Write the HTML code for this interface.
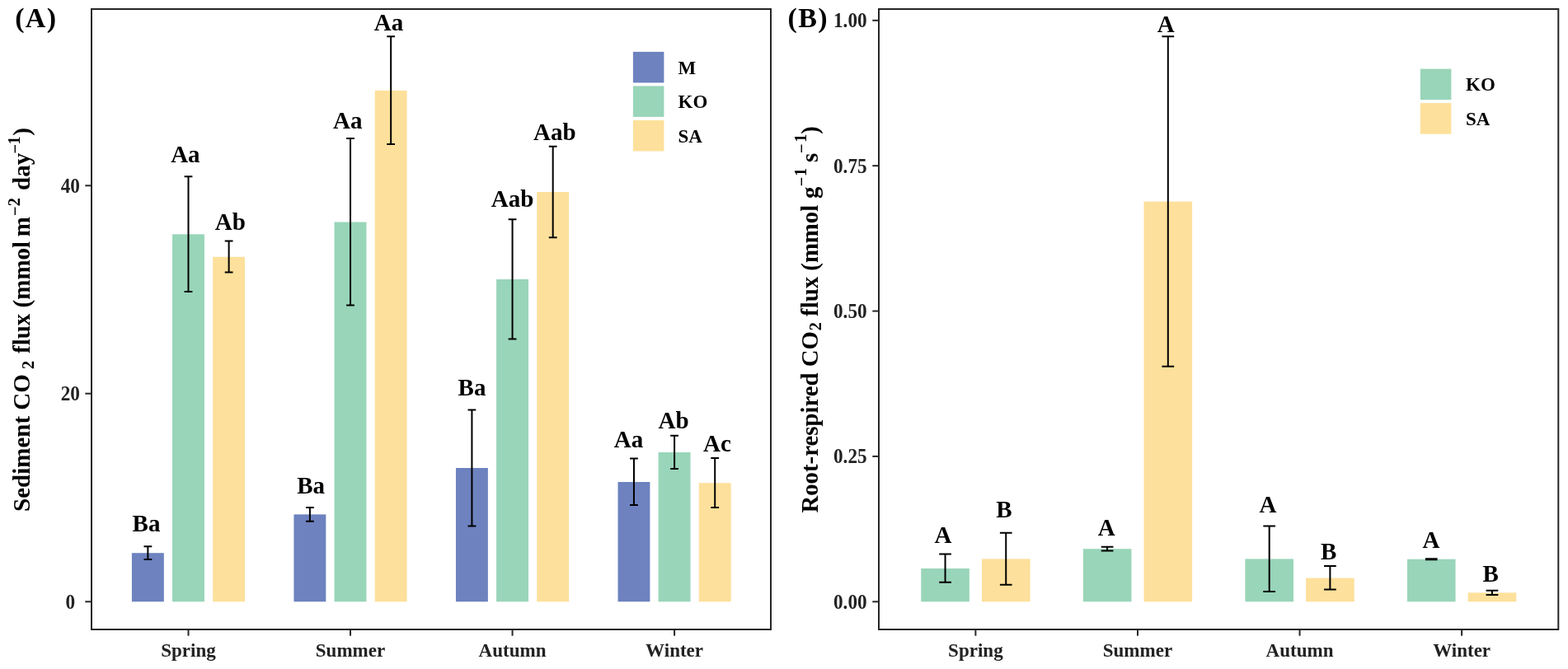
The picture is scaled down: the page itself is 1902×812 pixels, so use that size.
<!DOCTYPE html>
<html><head><meta charset="utf-8"><title>CO2 flux</title><style>
html,body{margin:0;padding:0;background:#fff;overflow:hidden;}
svg{display:block;}
text{font-family:'Liberation Serif','Times New Roman',serif;font-weight:bold;}
.lab{font-size:29px;fill:#000;text-anchor:middle;}
.tick{fill:#222;}
.leg{font-size:23px;fill:#000;}
.tag{font-size:34px;fill:#000;letter-spacing:1.3px;}
</style></head>
<body><svg width="1902" height="812" viewBox="0 0 1902 812">
<rect x="0" y="0" width="1902" height="812" fill="#fff"/>
<rect x="159.92" y="671.20" width="38.90" height="59.10" fill="#6d82bf"/>
<rect x="209.05" y="284.30" width="38.90" height="446.00" fill="#99d5b9"/>
<rect x="258.18" y="311.80" width="38.90" height="418.50" fill="#fde09b"/>
<rect x="356.45" y="624.40" width="38.90" height="105.90" fill="#6d82bf"/>
<rect x="405.58" y="269.50" width="38.90" height="460.80" fill="#99d5b9"/>
<rect x="454.71" y="109.90" width="38.90" height="620.40" fill="#fde09b"/>
<rect x="552.98" y="568.00" width="38.90" height="162.30" fill="#6d82bf"/>
<rect x="602.11" y="339.00" width="38.90" height="391.30" fill="#99d5b9"/>
<rect x="651.24" y="233.00" width="38.90" height="497.30" fill="#fde09b"/>
<rect x="749.51" y="585.00" width="38.90" height="145.30" fill="#6d82bf"/>
<rect x="798.64" y="549.00" width="38.90" height="181.30" fill="#99d5b9"/>
<rect x="847.77" y="586.20" width="38.90" height="144.10" fill="#fde09b"/>
<path d="M179.37 663.20V679.00M174.47 663.20H184.27M174.47 679.00H184.27" stroke="#000" stroke-width="2.0" fill="none"/>
<path d="M228.50 214.20V354.10M223.60 214.20H233.40M223.60 354.10H233.40" stroke="#000" stroke-width="2.0" fill="none"/>
<path d="M277.63 292.60V330.60M272.73 292.60H282.53M272.73 330.60H282.53" stroke="#000" stroke-width="2.0" fill="none"/>
<path d="M375.90 615.90V632.70M371.00 615.90H380.80M371.00 632.70H380.80" stroke="#000" stroke-width="2.0" fill="none"/>
<path d="M425.03 168.10V370.50M420.13 168.10H429.93M420.13 370.50H429.93" stroke="#000" stroke-width="2.0" fill="none"/>
<path d="M474.16 44.20V175.10M469.26 44.20H479.06M469.26 175.10H479.06" stroke="#000" stroke-width="2.0" fill="none"/>
<path d="M572.43 497.50V638.40M567.53 497.50H577.33M567.53 638.40H577.33" stroke="#000" stroke-width="2.0" fill="none"/>
<path d="M621.56 266.30V411.40M616.66 266.30H626.46M616.66 411.40H626.46" stroke="#000" stroke-width="2.0" fill="none"/>
<path d="M670.69 177.70V288.20M665.79 177.70H675.59M665.79 288.20H675.59" stroke="#000" stroke-width="2.0" fill="none"/>
<path d="M768.96 556.60V612.90M764.06 556.60H773.86M764.06 612.90H773.86" stroke="#000" stroke-width="2.0" fill="none"/>
<path d="M818.09 528.70V569.10M813.19 528.70H822.99M813.19 569.10H822.99" stroke="#000" stroke-width="2.0" fill="none"/>
<path d="M867.22 556.00V616.00M862.32 556.00H872.12M862.32 616.00H872.12" stroke="#000" stroke-width="2.0" fill="none"/>
<text x="177.53" y="644.50" class="lab">Ba</text>
<text x="224.88" y="196.60" class="lab">Aa</text>
<text x="279.35" y="279.00" class="lab">Ab</text>
<text x="377.08" y="599.20" class="lab">Ba</text>
<text x="421.73" y="156.00" class="lab">Aa</text>
<text x="471.58" y="37.30" class="lab">Aa</text>
<text x="572.48" y="479.60" class="lab">Ba</text>
<text x="621.60" y="251.40" class="lab">Aab</text>
<text x="672.90" y="169.70" class="lab">Aab</text>
<text x="762.58" y="543.40" class="lab">Aa</text>
<text x="817.15" y="519.70" class="lab">Ab</text>
<text x="869.97" y="547.60" class="lab">Ac</text>
<rect x="1117.25" y="690.00" width="58.60" height="40.30" fill="#99d5b9"/>
<rect x="1190.95" y="678.40" width="58.60" height="51.90" fill="#fde09b"/>
<rect x="1313.82" y="666.20" width="58.60" height="64.10" fill="#99d5b9"/>
<rect x="1387.52" y="244.60" width="58.60" height="485.70" fill="#fde09b"/>
<rect x="1510.39" y="678.40" width="58.60" height="51.90" fill="#99d5b9"/>
<rect x="1584.09" y="701.60" width="58.60" height="28.70" fill="#fde09b"/>
<rect x="1706.96" y="678.70" width="58.60" height="51.60" fill="#99d5b9"/>
<rect x="1780.66" y="719.40" width="58.60" height="10.90" fill="#fde09b"/>
<path d="M1146.55 672.60V706.80M1139.20 672.60H1153.90M1139.20 706.80H1153.90" stroke="#000" stroke-width="2.0" fill="none"/>
<path d="M1220.25 646.70V709.80M1212.90 646.70H1227.60M1212.90 709.80H1227.60" stroke="#000" stroke-width="2.0" fill="none"/>
<path d="M1343.12 663.80V668.50M1335.77 663.80H1350.47M1335.77 668.50H1350.47" stroke="#000" stroke-width="2.0" fill="none"/>
<path d="M1416.82 44.30V444.70M1409.47 44.30H1424.17M1409.47 444.70H1424.17" stroke="#000" stroke-width="2.0" fill="none"/>
<path d="M1539.69 638.50V718.10M1532.34 638.50H1547.04M1532.34 718.10H1547.04" stroke="#000" stroke-width="2.0" fill="none"/>
<path d="M1613.39 687.10V715.50M1606.04 687.10H1620.74M1606.04 715.50H1620.74" stroke="#000" stroke-width="2.0" fill="none"/>
<path d="M1736.26 678.15V679.15M1728.91 678.15H1743.61M1728.91 679.15H1743.61" stroke="#000" stroke-width="2.0" fill="none"/>
<path d="M1809.96 716.80V721.90M1802.61 716.80H1817.31M1802.61 721.90H1817.31" stroke="#000" stroke-width="2.0" fill="none"/>
<text x="1143.86" y="658.70" class="lab">A</text>
<text x="1217.96" y="628.30" class="lab">B</text>
<text x="1342.11" y="650.00" class="lab">A</text>
<text x="1414.16" y="38.80" class="lab">A</text>
<text x="1537.91" y="622.10" class="lab">A</text>
<text x="1611.76" y="678.70" class="lab">B</text>
<text x="1735.96" y="665.00" class="lab">A</text>
<text x="1808.16" y="706.40" class="lab">B</text>
<rect x="111" y="11" width="824.00" height="753" fill="none" stroke="#262626" stroke-width="2.0"/>
<rect x="1066" y="11" width="824.30" height="753" fill="none" stroke="#262626" stroke-width="2.0"/>
<path d="M103.3 730.3H111" stroke="#262626" stroke-width="2.0"/>
<text transform="translate(85.30,738.89) scale(0.93,1)" class="tick" font-size="25.0" text-anchor="middle">0</text>
<path d="M103.3 477.7H111" stroke="#262626" stroke-width="2.0"/>
<text transform="translate(85.30,486.29) scale(0.93,1)" class="tick" font-size="25.0" text-anchor="middle">20</text>
<path d="M103.3 225.3H111" stroke="#262626" stroke-width="2.0"/>
<text transform="translate(85.30,233.89) scale(0.93,1)" class="tick" font-size="25.0" text-anchor="middle">40</text>
<path d="M1058.3 730.3H1066" stroke="#262626" stroke-width="2.0"/>
<text transform="translate(1031.30,738.89) scale(0.93,1)" class="tick" font-size="25.0" text-anchor="middle">0.00</text>
<path d="M1058.3 553.9H1066" stroke="#262626" stroke-width="2.0"/>
<text transform="translate(1031.30,562.49) scale(0.93,1)" class="tick" font-size="25.0" text-anchor="middle">0.25</text>
<path d="M1058.3 377.55H1066" stroke="#262626" stroke-width="2.0"/>
<text transform="translate(1031.30,386.14) scale(0.93,1)" class="tick" font-size="25.0" text-anchor="middle">0.50</text>
<path d="M1058.3 201.2H1066" stroke="#262626" stroke-width="2.0"/>
<text transform="translate(1031.30,209.79) scale(0.93,1)" class="tick" font-size="25.0" text-anchor="middle">0.75</text>
<path d="M1058.3 24.8H1066" stroke="#262626" stroke-width="2.0"/>
<text transform="translate(1031.30,33.39) scale(0.93,1)" class="tick" font-size="25.0" text-anchor="middle">1.00</text>
<path d="M228.50 764V771.7" stroke="#262626" stroke-width="2.0"/>
<text transform="translate(228.50,796.50) scale(0.96,1)" class="tick" font-size="24.0" text-anchor="middle">Spring</text>
<path d="M425.03 764V771.7" stroke="#262626" stroke-width="2.0"/>
<text transform="translate(425.03,796.50) scale(0.96,1)" class="tick" font-size="24.0" text-anchor="middle">Summer</text>
<path d="M621.56 764V771.7" stroke="#262626" stroke-width="2.0"/>
<text transform="translate(621.56,796.50) scale(0.96,1)" class="tick" font-size="24.0" text-anchor="middle">Autumn</text>
<path d="M818.09 764V771.7" stroke="#262626" stroke-width="2.0"/>
<text transform="translate(818.09,796.50) scale(0.96,1)" class="tick" font-size="24.0" text-anchor="middle">Winter</text>
<path d="M1183.40 764V771.7" stroke="#262626" stroke-width="2.0"/>
<text transform="translate(1183.40,796.50) scale(0.96,1)" class="tick" font-size="24.0" text-anchor="middle">Spring</text>
<path d="M1379.97 764V771.7" stroke="#262626" stroke-width="2.0"/>
<text transform="translate(1379.97,796.50) scale(0.96,1)" class="tick" font-size="24.0" text-anchor="middle">Summer</text>
<path d="M1576.54 764V771.7" stroke="#262626" stroke-width="2.0"/>
<text transform="translate(1576.54,796.50) scale(0.96,1)" class="tick" font-size="24.0" text-anchor="middle">Autumn</text>
<path d="M1773.11 764V771.7" stroke="#262626" stroke-width="2.0"/>
<text transform="translate(1773.11,796.50) scale(0.96,1)" class="tick" font-size="24.0" text-anchor="middle">Winter</text>
<rect x="767.9" y="62.9" width="37.5" height="37.5" fill="#6d82bf"/>
<text x="822.5" y="89.7" class="leg">M</text>
<rect x="767.9" y="104.4" width="37.5" height="37.5" fill="#99d5b9"/>
<text x="822.5" y="131.2" class="leg">KO</text>
<rect x="767.9" y="146.0" width="37.5" height="37.5" fill="#fde09b"/>
<text x="822.5" y="172.8" class="leg">SA</text>
<rect x="1722.9" y="83.6" width="37.5" height="37.5" fill="#99d5b9"/>
<text x="1778" y="110.4" class="leg">KO</text>
<rect x="1722.9" y="125.1" width="37.5" height="37.5" fill="#fde09b"/>
<text x="1778" y="151.9" class="leg">SA</text>
<text x="18.2" y="32.8" class="tag">(A)</text>
<text x="955.6" y="32.8" class="tag">(B)</text>
<text transform="translate(36.00,620.94) rotate(-90)" font-size="29" font-weight="bold" fill="#000">Sediment CO</text>
<text transform="translate(40.50,447.89) rotate(-90)" font-size="20.3" font-weight="normal" fill="#000">2</text>
<text transform="translate(36.00,429.01) rotate(-90)" font-size="29" font-weight="bold" fill="#000">flux (mmol</text>
<text transform="translate(36.00,287.28) rotate(-90)" font-size="29" font-weight="bold" fill="#000">m</text>
<text transform="translate(24.60,262.01) rotate(-90)" font-size="20.3" font-weight="normal" fill="#000">−</text>
<text transform="translate(24.00,250.29) rotate(-90)" font-size="20.3" font-weight="normal" fill="#000">2</text>
<text transform="translate(36.00,230.98) rotate(-90)" font-size="29" font-weight="bold" fill="#000">day</text>
<text transform="translate(24.60,186.51) rotate(-90)" font-size="20.3" font-weight="normal" fill="#000">−</text>
<text transform="translate(24.00,175.58) rotate(-90)" font-size="20.3" font-weight="normal" fill="#000">1</text>
<text transform="translate(36.00,164.83) rotate(-90)" font-size="29" font-weight="bold" fill="#000">)</text>
<text transform="translate(991.50,622.59) rotate(-90)" font-size="28.8" font-weight="bold" fill="#000">Root-respired CO</text>
<text transform="translate(995.70,401.19) rotate(-90)" font-size="20.3" font-weight="normal" fill="#000">2</text>
<text transform="translate(991.50,383.91) rotate(-90)" font-size="28.8" font-weight="bold" fill="#000">flux (mmol</text>
<text transform="translate(991.50,241.06) rotate(-90)" font-size="28.8" font-weight="bold" fill="#000">g</text>
<text transform="translate(978.80,226.21) rotate(-90)" font-size="20.3" font-weight="normal" fill="#000">−</text>
<text transform="translate(978.10,213.98) rotate(-90)" font-size="20.3" font-weight="normal" fill="#000">1</text>
<text transform="translate(991.50,196.97) rotate(-90)" font-size="28.8" font-weight="bold" fill="#000">s</text>
<text transform="translate(978.80,186.11) rotate(-90)" font-size="20.3" font-weight="normal" fill="#000">−</text>
<text transform="translate(978.10,172.68) rotate(-90)" font-size="20.3" font-weight="normal" fill="#000">1</text>
<text transform="translate(991.50,162.73) rotate(-90)" font-size="28.8" font-weight="bold" fill="#000">)</text>
</svg></body></html>
